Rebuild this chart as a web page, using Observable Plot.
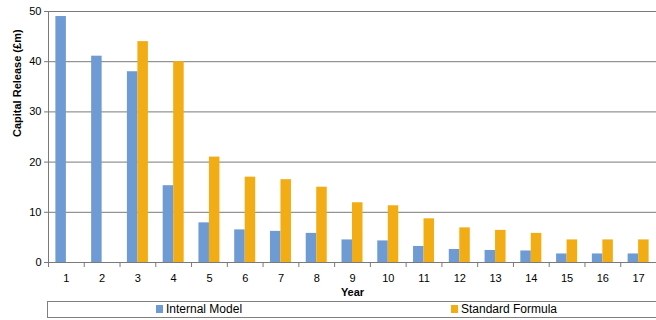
<!DOCTYPE html>
<html>
<head>
<meta charset="utf-8">
<script src="https://cdn.jsdelivr.net/npm/d3@7"></script>
<script src="https://cdn.jsdelivr.net/npm/@observablehq/plot@0.6"></script>
<style>
  body { margin: 0; background: #fff; font-family: "Liberation Sans", Arial, sans-serif; }
  #wrap { position: relative; width: 656px; height: 320px; overflow: hidden; }
  #legend { position: absolute; left: 47px; top: 301px; width: 620px; height: 17px; border: 1px solid #7f7f7f; box-sizing: border-box; font-size: 12px; color: #000; }
  .item { position: absolute; top: 0px; line-height: 15px; white-space: nowrap; }
  .sw { display: inline-block; width: 7px; height: 8px; margin-right: 3px; vertical-align: -0px; }
</style>
</head>
<body>
<div id="wrap">
  <div id="chart"></div>
  <div id="legend"></div>
</div>
<script>
const years = [1,2,3,4,5,6,7,8,9,10,11,12,13,14,15,16,17];
const internalModel = [49, 41.1, 38, 15.3, 7.9, 6.5, 6.2, 5.8, 4.5, 4.3, 3.2, 2.6, 2.4, 2.3, 1.7, 1.7, 1.7];
const standardFormula = [null, null, 44, 40, 21, 17, 16.5, 15, 11.9, 11.3, 8.7, 6.9, 6.4, 5.8, 4.5, 4.5, 4.5];
const seriesNames = ["Internal Model", "Standard Formula"];
const seriesColors = ["#6f9bd5", "#f3ad14"];
const yTicks = [0, 10, 20, 30, 40, 50];

const imData = years.map((y, i) => ({year: y, value: internalModel[i]}));
const sfData = years.map((y, i) => ({year: y, value: standardFormula[i]})).filter(d => d.value != null);

const width = 656, marginLeft = 48, marginRight = 0;
const step = (width - marginLeft - marginRight) / years.length;
const half = step / 2;
const barW = 10.5;
const outer = half - barW;

const chart = Plot.plot({
  width: width,
  height: 300,
  marginLeft: marginLeft,
  marginRight: marginRight,
  marginTop: 11,
  marginBottom: 38,
  style: { fontFamily: "Liberation Sans, Arial, sans-serif", fontSize: "11px", color: "#000" },
  x: { type: "band", domain: years, padding: 0, round: false },
  y: { domain: [0, 50], ticks: yTicks },
  marks: [
    Plot.gridY(yTicks, { stroke: "#7a7a7a", strokeOpacity: 1, strokeWidth: 1 }),
    Plot.barY(imData, { x: "year", y: "value", fill: seriesColors[0], insetLeft: outer, insetRight: half }),
    Plot.barY(sfData, { x: "year", y: "value", fill: seriesColors[1], insetLeft: half, insetRight: outer }),
    Plot.ruleY([0], { stroke: "#7a7a7a" }),
    Plot.ruleX([years[0]], { stroke: "#7a7a7a", dx: -half }),
    Plot.axisY(yTicks, { tickSize: 4, tickPadding: 3, stroke: "#7a7a7a", fontSize: 11, label: null }),
    Plot.axisX({ tickSize: 5, dx: -half, text: null, stroke: "#7a7a7a", label: null }),
    Plot.axisX({ tickSize: 0, tickPadding: 12, fontSize: 11, label: null }),
    Plot.text(["Year"], { frameAnchor: "bottom", dy: 33, fontWeight: "bold", fontSize: 11 }),
    Plot.text(["Capital Release (£m)"], { frameAnchor: "left", dx: -31, rotate: -90, fontWeight: "bold", fontSize: 11 })
  ]
});
document.getElementById("chart").appendChild(chart);

const legend = document.getElementById("legend");
const positions = [108, 403];
seriesNames.forEach((name, i) => {
  const it = document.createElement("div");
  it.className = "item";
  it.style.left = positions[i] + "px";
  it.innerHTML = `<span class="sw" style="background:${seriesColors[i]}"></span>${name}`;
  legend.appendChild(it);
});
</script>
</body>
</html>
